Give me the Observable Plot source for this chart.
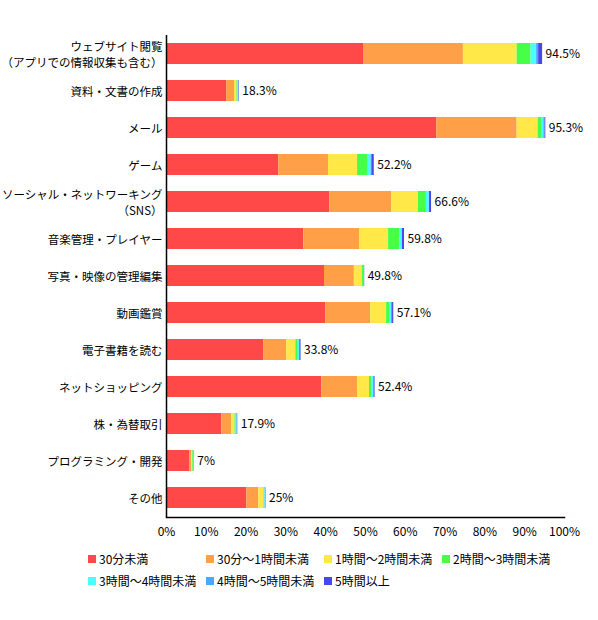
<!DOCTYPE html>
<html>
<head>
<meta charset="utf-8">
<script src="https://cdn.jsdelivr.net/npm/d3@7"></script>
<script src="https://cdn.jsdelivr.net/npm/@observablehq/plot@0.6"></script>
<style>
  body { margin: 0; background: #fff; font-family: "Noto Sans CJK JP", sans-serif; }
  #chart { width: 598px; }
  .legend { display: grid; grid-template-columns: repeat(4, 118px); margin-left: 88px; row-gap: 5px; margin-top: 3px;
            font-size: 12px; color: #000; }
  .legend span { display: inline-flex; align-items: center; white-space: nowrap; }
  .legend i { width: 8px; height: 8px; display: inline-block; margin-right: 3px; }
</style>
</head>
<body>
<div id="chart"></div>
<script>
// ----------------- data -----------------
const categories = [
  "ウェブサイト閲覧\n（アプリでの情報収集も含む）",
  "資料・文書の作成",
  "メール",
  "ゲーム",
  "ソーシャル・ネットワーキング\n（SNS）",
  "音楽管理・プレイヤー",
  "写真・映像の管理編集",
  "動画鑑賞",
  "電子書籍を読む",
  "ネットショッピング",
  "株・為替取引",
  "プログラミング・開発",
  "その他"
];
const seriesNames = ["30分未満", "30分～1時間未満", "1時間～2時間未満", "2時間～3時間未満", "3時間～4時間未満", "4時間～5時間未満", "5時間以上"];
const seriesColors = ["#ff4848", "#ffa048", "#ffe848", "#48ff48", "#48ffff", "#48a8ff", "#4848e8"];

const under30m = [49.5, 15.1, 67.9, 28.2, 41.0, 34.5, 39.7, 40.0, 24.4, 39.0, 13.9, 5.9, 20.2];
const to1h     = [25.1, 2.0, 20.2, 12.5, 15.6, 14.0, 7.5, 11.3, 5.8, 9.0, 2.5, 0.4, 3.0];
const to2h     = [13.5, 0.6, 5.3, 7.3, 6.7, 7.3, 2.0, 4.0, 2.3, 3.0, 0.8, 0.3, 1.3];
const to3h     = [3.5, 0.2, 1.0, 2.5, 2.0, 2.8, 0.3, 0.8, 0.6, 0.6, 0.3, 0.2, 0.2];
const to4h     = [1.4, 0.2, 0.4, 0.9, 0.7, 0.6, 0.1, 0.4, 0.3, 0.4, 0.2, 0.1, 0.1];
const to5h     = [0.5, 0.1, 0.3, 0.2, 0.1, 0.1, 0.1, 0.3, 0.1, 0.2, 0.1, 0.05, 0.1];
const over5h   = [1.0, 0.1, 0.2, 0.6, 0.5, 0.5, 0.1, 0.3, 0.3, 0.2, 0.1, 0.05, 0.1];
const totals   = [94.5, 18.3, 95.3, 52.2, 66.6, 59.8, 49.8, 57.1, 33.8, 52.4, 17.9, 7, 25];
const xTicks   = [0, 10, 20, 30, 40, 50, 60, 70, 80, 90, 100];

// --------------- build -----------------
const seriesValues = [under30m, to1h, to2h, to3h, to4h, to5h, over5h];
const long = seriesValues.flatMap((vals, s) =>
  vals.map((v, i) => ({ cat: categories[i], series: seriesNames[s], value: v })));
const totalRows = categories.map((c, i) => ({ cat: c, total: totals[i] }));

const fig = Plot.plot({
  width: 598, height: 547,
  marginLeft: 166, marginRight: 34, marginTop: 35, marginBottom: 30,
  style: { fontFamily: "'Noto Sans CJK JP', sans-serif", fontSize: "12px", color: "#000", overflow: "visible" },
  x: { domain: [0, 100], axis: null },
  y: { domain: categories, paddingInner: 0.43, paddingOuter: 0.22, axis: null },
  color: { domain: seriesNames, range: seriesColors },
  marks: [
    Plot.barX(long, { x: "value", y: "cat", fill: "series" }),
    Plot.text(totalRows, { x: "total", y: "cat", text: d => d.total + "%", textAnchor: "start", dx: 3, fontSize: 12, fill: "#000" }),
    Plot.axisY({ tickSize: 0, tickPadding: 4, fontSize: 11.5, lineHeight: 1.4, fill: "#000", label: null }),
    Plot.axisX({ ticks: xTicks, tickSize: 0, tickPadding: 10, tickFormat: d => d + "%", fontSize: 12, fill: "#000", label: null }),
    Plot.ruleX([0], { stroke: "#000", strokeWidth: 1.5 }),
    Plot.frame({ anchor: "bottom", stroke: "#000", strokeWidth: 1.5 })
  ]
});
const el = document.getElementById("chart");
el.appendChild(fig);

const legend = document.createElement("div");
legend.className = "legend";
seriesNames.forEach((s, i) => {
  const item = document.createElement("span");
  item.innerHTML = `<i style="background:${seriesColors[i]}"></i>${s}`;
  legend.appendChild(item);
});
el.appendChild(legend);
</script>
</body>
</html>
